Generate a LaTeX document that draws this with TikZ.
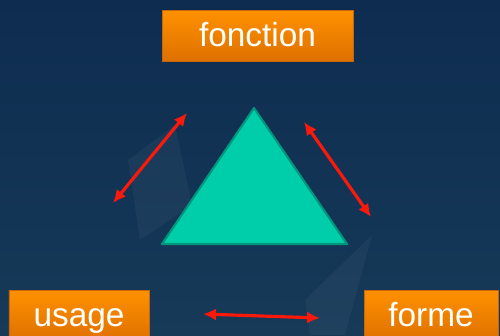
\documentclass[tikz,border=0pt]{standalone}
\usepackage{xcolor}
\usepackage{fontspec}
\setmainfont{Liberation Sans}
\usetikzlibrary{shapes,arrows.meta,calc,positioning}

\definecolor{navytop}{RGB}{14,44,80}
\definecolor{navybot}{RGB}{22,58,88}
\definecolor{boxtop}{RGB}{255,145,0}
\definecolor{boxbot}{RGB}{222,112,0}
\definecolor{boxline}{RGB}{200,100,10}
\definecolor{tealfill}{RGB}{0,206,170}
\definecolor{tealline}{RGB}{0,150,125}
\definecolor{arrowred}{RGB}{250,25,10}

\begin{document}
\begin{tikzpicture}[x=0.2mm, y=-0.2mm,
  pole/.style={rectangle, draw=boxline, line width=0.4pt, top color=boxtop, bottom color=boxbot, minimum height=10.2mm, text=white, font=\fontsize{19}{22}\selectfont, inner sep=0pt, text height=2.35ex, text depth=0pt},
  link/.style={{Latex[length=2.6mm,width=2.4mm]}-{Latex[length=2.6mm,width=2.4mm]}, draw=arrowred, line width=1.8pt},
  haze/.style={fill=white, opacity=0.04}
]

% Background
\shade[top color=navytop, bottom color=navybot] (0,0) rectangle (500,335);
\useasboundingbox (0,0) rectangle (500,335);
\fill[haze] (128,160) -- (175,125) -- (192,205) -- (140,240) -- cycle;
\fill[haze] (305,300) -- (372,235) -- (345,335) -- (310,335) -- cycle;

% Poles
\node[pole, minimum width=38.2mm] (fonction) at (257.5,35.5) {fonction};
\node[pole, minimum width=28mm] (usage) at (79,315.5) {usage};
\node[pole, minimum width=26.8mm] (forme) at (431,315.5) {forme};

% Triangle
\coordinate (apex) at (254,108);
\coordinate (left) at (162,244);
\coordinate (right) at (347,244);
\filldraw[fill=tealfill, draw=tealline, line width=1.2pt, line join=round] (apex) -- (left) -- (right) -- cycle;

% Links
\coordinate (lu) at (113,203);
\coordinate (lf) at (187,113);
\coordinate (rf) at (304,122);
\coordinate (rm) at (371,217);
\coordinate (bu) at (203,314);
\coordinate (bm) at (320,318);
\draw[link] (lu) -- (lf);
\draw[link] (rf) -- (rm);
\draw[link] (bu) -- (bm);

\end{tikzpicture}
\end{document}
